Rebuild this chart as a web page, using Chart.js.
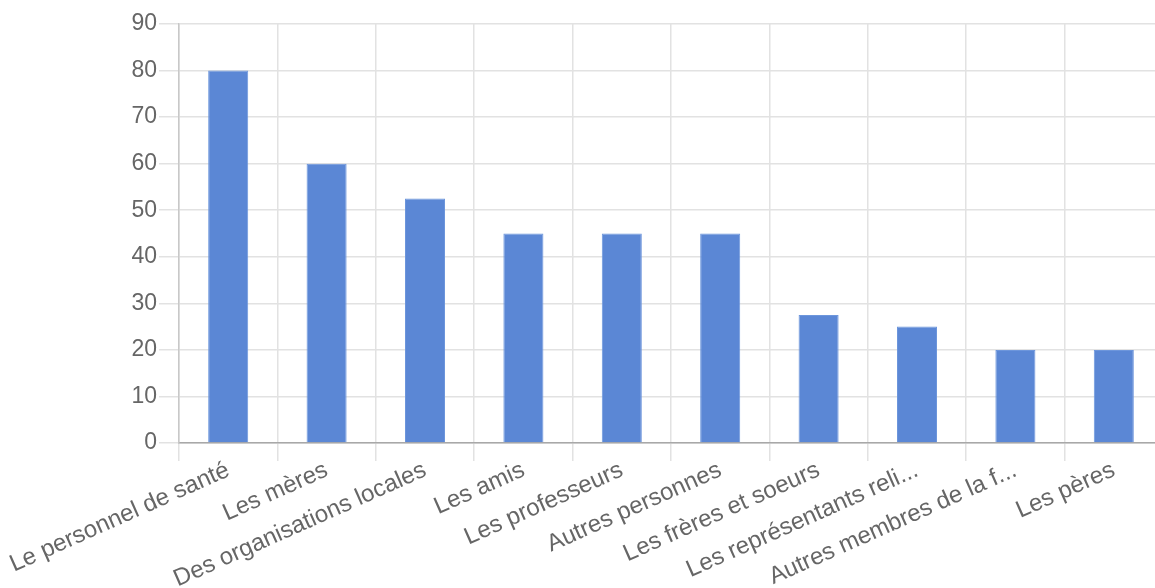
<!DOCTYPE html>
<html>
<head>
<meta charset="utf-8">
<script src="https://cdn.jsdelivr.net/npm/chart.js@4.4.1/dist/chart.umd.min.js"></script>
<style>
  html, body { margin: 0; padding: 0; background: #ffffff; overflow: hidden; }
  #wrap { width: 1155px; height: 588px; position: relative; overflow: hidden; }
  #chart { position: absolute; left: 0; top: 0; }
</style>
</head>
<body>
<div id="wrap"><canvas id="chart" width="1163" height="588"></canvas></div>
<script>
// Categories and values
const categories = [
  'Le personnel de santé',
  'Les mères',
  'Des organisations locales',
  'Les amis',
  'Les professeurs',
  'Autres personnes',
  'Les frères et soeurs',
  'Les représentants reli...',
  'Autres membres de la f...',
  'Les pères'
];
const values = [80, 60, 52.5, 45, 45, 45, 27.5, 25, 20, 20];
const yTicks = [0, 10, 20, 30, 40, 50, 60, 70, 80, 90];

const yFont = { family: '"Liberation Sans", Arial, sans-serif', size: 23 };
const xFont = { family: '"Liberation Sans", Arial, sans-serif', size: 24 };

new Chart(document.getElementById('chart'), {
  type: 'bar',
  data: {
    labels: categories,
    datasets: [{
      data: values,
      backgroundColor: '#5b87d5',
      borderColor: '#6d96dc',
      borderWidth: 1,
      categoryPercentage: 1,
      barPercentage: 0.407
    }]
  },
  options: {
    responsive: false,
    animation: false,
    layout: { padding: { top: 24, right: 0, left: 0, bottom: 0 } },
    plugins: { legend: { display: false }, tooltip: { enabled: false } },
    scales: {
      x: {
        grid: {
          offset: true,
          color: '#e2e2e2',
          lineWidth: 1.5,
          tickLength: 18
        },
        border: { color: '#a8a8a8', width: 1.5 },
        ticks: {
          color: '#666666',
          font: xFont,
          minRotation: 24,
          maxRotation: 24,
          autoSkip: false,
          padding: -5
        },
        afterFit: (scale) => { scale.height = 145; }
      },
      y: {
        min: 0,
        max: 90,
        afterBuildTicks: (scale) => { scale.ticks = yTicks.map(v => ({ value: v })); },
        grid: {
          color: '#e2e2e2',
          lineWidth: 1.5,
          tickLength: 20
        },
        border: { color: '#c8c8c8', width: 1.5 },
        ticks: {
          color: '#666666',
          font: yFont,
          padding: 2
        },
        afterFit: (scale) => { scale.width = 179; }
      }
    }
  }
});
</script>
</body>
</html>
